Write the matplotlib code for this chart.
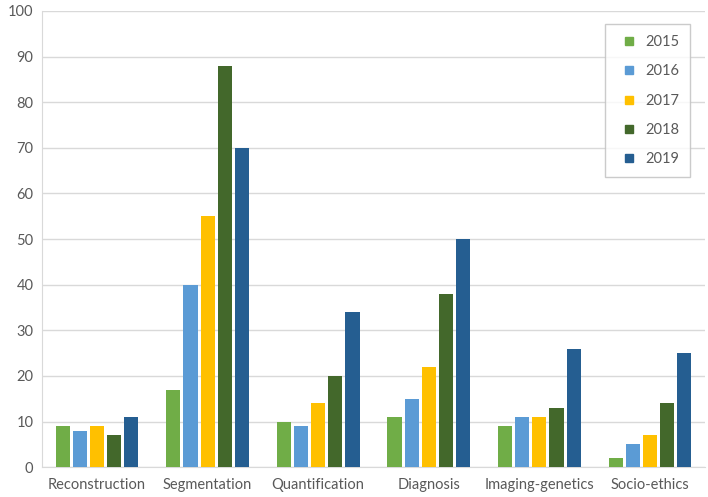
import matplotlib.pyplot as plt
import numpy as np
from matplotlib.lines import Line2D

categories = ['Reconstruction', 'Segmentation', 'Quantification',
              'Diagnosis', 'Imaging-genetics', 'Socio-ethics']
years = ['2015', '2016', '2017', '2018', '2019']
values = {
    '2015': [9, 17, 10, 11, 9, 2],
    '2016': [8, 40, 9, 15, 11, 5],
    '2017': [9, 55, 14, 22, 11, 7],
    '2018': [7, 88, 20, 38, 13, 14],
    '2019': [11, 70, 34, 50, 26, 25],
}
colors = ['#70AD47', '#5B9BD5', '#FFC000', '#43682B', '#255E91']

plt.rcParams['font.family'] = ['Lato', 'DejaVu Sans']

fig = plt.figure(figsize=(7.08, 4.97), dpi=100)
ax = fig.add_axes([0.059, 0.06, 0.937, 0.918])

x = np.arange(len(categories))
step = 0.155
width = 0.128
for i, yr in enumerate(years):
    ax.bar(x + (i - 2) * step, values[yr], width, color=colors[i], label=yr, zorder=3)

ax.set_xlim(-0.5, len(categories) - 0.5)
ax.set_ylim(0, 100)
ax.set_yticks(range(0, 101, 10))
ax.set_xticks(x)
ax.set_xticklabels(categories)
ax.tick_params(axis='both', length=0, labelsize=10.5, colors='#595959', pad=8)
ax.tick_params(axis='y', pad=6)
ax.grid(axis='y', color='#D9D9D9', linewidth=1, zorder=0)

for s in ['top', 'right']:
    ax.spines[s].set_visible(False)
ax.spines['left'].set_color('#D9D9D9')
ax.spines['bottom'].set_color('#D9D9D9')

# legend with small square markers
handles = [Line2D([], [], marker='s', linestyle='', color=c, markersize=5.5)
           for c in colors]
leg = ax.legend(handles, years, loc='upper right', bbox_to_anchor=(0.977, 0.971),
                frameon=True, fancybox=False, edgecolor='#BFBFBF', fontsize=10.5,
                labelspacing=1.05, handlelength=1.8, handletextpad=0.2,
                borderpad=0.75, borderaxespad=0)
for t in leg.get_texts():
    t.set_color('#595959')
leg.get_frame().set_linewidth(1)

fig.savefig('out.png', dpi=100)
